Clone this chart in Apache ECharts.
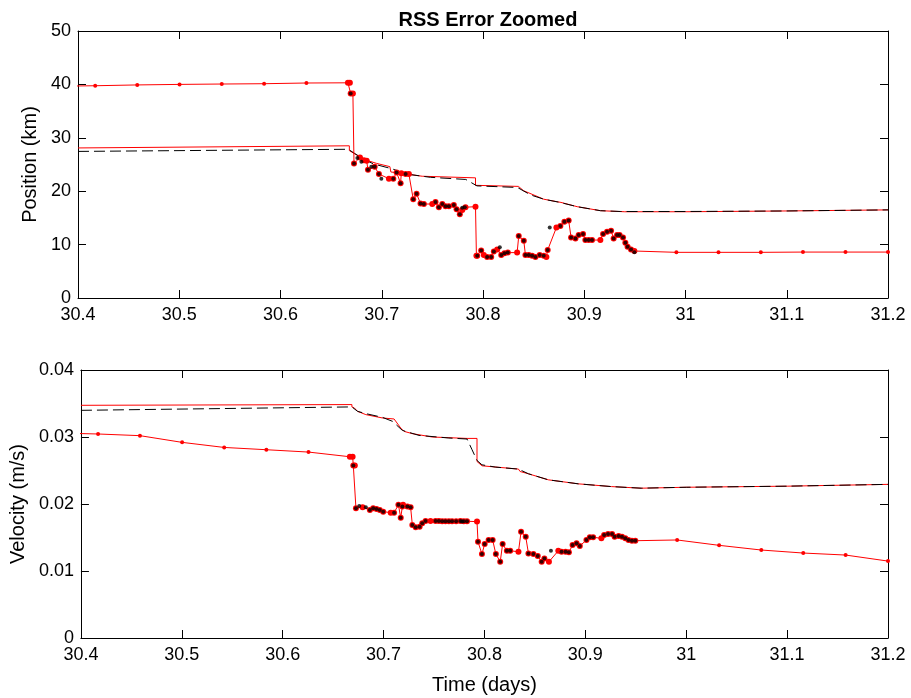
<!DOCTYPE html>
<html><head><meta charset="utf-8">
<script src="https://cdn.jsdelivr.net/npm/echarts@6/dist/echarts.min.js"></script>
<style>html,body{margin:0;padding:0;background:#fff}#c{width:911px;height:698px}</style>
</head><body><div id="c"></div>
<script>
// ---------- DATA ----------
const xTicks = [30.4, 31.2, 0.1];
const posCovRed = [[30.4,28.1],[30.668,28.5],[30.668,27.6],[30.675,26.8],[30.685,25.8],[30.695,25.2],[30.708,24.6],[30.709,23.6],[30.725,23.2],[30.74,22.8],[30.7926,22.5],[30.7926,21.1],[30.835,20.9],[30.84,20.1],[30.86,18.5],[30.877,17.9],[30.893,17.1],[30.916,16.35],[30.94,16.15],[31.0,16.15],[31.1,16.3],[31.2,16.5]];
const posCovBlack = [[30.4,27.45],[30.667,27.85],[30.673,27.1],[30.682,26.0],[30.692,25.1],[30.710,24.2],[30.725,23.2],[30.748,22.6],[30.783,22.2],[30.794,21.0],[30.834,20.7],[30.847,19.3],[30.86,18.5],[30.876,17.9],[30.893,17.1],[30.916,16.35],[30.936,16.2],[31.0,16.2],[31.1,16.3],[31.2,16.5]];
const posErrRed = [[30.375,39.65],[30.417,39.75],[30.4585,39.9],[30.5003,40.0],[30.542,40.07],[30.5838,40.13],[30.6256,40.26],[30.6666,40.3],[30.6685,40.3],[30.6693,38.3],[30.6715,38.3],[30.6726,25.2],[30.6785,26.3],[30.6824,25.8],[30.6851,25.7],[30.6864,24.0],[30.693,24.6],[30.6972,23.2],[30.7071,22.35],[30.7114,22.35],[30.7147,23.5],[30.7186,21.5],[30.7193,23.35],[30.7236,23.2],[30.7268,23.2],[30.7311,18.5],[30.7344,19.5],[30.7383,17.7],[30.7416,17.6],[30.7499,17.6],[30.7531,18.0],[30.7564,17.0],[30.7598,17.6],[30.763,17.2],[30.7663,17.2],[30.7712,17.4],[30.7739,16.6],[30.7771,15.7],[30.7795,16.5],[30.7827,17.0],[30.7926,17.1],[30.7935,7.9],[30.7943,7.9],[30.7982,8.9],[30.8008,8.05],[30.8041,7.7],[30.8081,7.7],[30.8107,8.7],[30.814,9.1],[30.818,8.05],[30.8212,8.4],[30.8245,8.5],[30.8337,8.5],[30.8353,11.6],[30.8403,10.7],[30.8419,8.05],[30.8452,8.05],[30.8485,7.9],[30.8518,7.7],[30.856,8.05],[30.86,7.9],[30.8626,7.7],[30.8639,9.0],[30.8725,13.2],[30.8764,13.5],[30.8804,14.3],[30.8846,14.5],[30.887,11.35],[30.8913,11.15],[30.8945,11.8],[30.8988,12.0],[30.9011,10.85],[30.9044,10.85],[30.9077,10.85],[30.9159,10.85],[30.9186,12.0],[30.9225,12.4],[30.9265,12.6],[30.929,11.15],[30.9324,11.8],[30.9349,11.8],[30.9383,11.35],[30.9406,10.35],[30.9428,9.6],[30.9462,9.1],[30.9495,8.8],[30.991,8.55],[31.0326,8.55],[31.0744,8.55],[31.116,8.6],[31.158,8.6],[31.2,8.6]];
const posErrBlack = [[30.6693,38.3],[30.6726,25.2],[30.6759,26.2],[30.6799,25.5],[30.6864,24.0],[30.6897,24.6],[30.693,24.6],[30.6972,23.2],[30.6996,22.35],[30.7114,22.35],[30.7147,23.5],[30.7186,21.5],[30.7236,23.2],[30.7311,18.5],[30.7344,19.5],[30.7383,17.7],[30.7416,17.6],[30.7531,18.0],[30.7564,17.0],[30.7598,17.6],[30.763,17.2],[30.7663,17.2],[30.7712,17.4],[30.7739,16.6],[30.7771,15.7],[30.7795,16.9],[30.782,17.0],[30.7943,7.9],[30.7982,8.9],[30.8041,7.7],[30.8081,7.7],[30.8107,8.7],[30.8166,9.5],[30.818,8.05],[30.8212,8.4],[30.8245,8.5],[30.8353,11.6],[30.8403,10.7],[30.8419,8.05],[30.8452,8.05],[30.8485,7.9],[30.8518,7.7],[30.856,8.05],[30.86,7.9],[30.8639,9.0],[30.8659,13.2],[30.8764,13.5],[30.8804,14.3],[30.8846,14.5],[30.887,11.35],[30.8913,11.15],[30.8945,11.8],[30.8988,12.0],[30.9011,10.85],[30.9044,10.85],[30.9077,10.85],[30.9186,12.0],[30.9225,12.4],[30.9265,12.6],[30.929,11.15],[30.9324,11.8],[30.9349,11.8],[30.9383,11.35],[30.9406,10.35],[30.9428,9.6],[30.9462,9.1],[30.9495,8.55]];

const velCovRed = [[30.4,0.03473],[30.6686,0.03484],[30.6686,0.03449],[30.671,0.03434],[30.6742,0.03383],[30.6824,0.03334],[30.6989,0.03284],[30.7104,0.03269],[30.7104,0.0324],[30.717,0.03134],[30.7203,0.03084],[30.7285,0.0305],[30.7482,0.03],[30.7827,0.02979],[30.7926,0.02979],[30.7926,0.02635],[30.7975,0.0257],[30.8337,0.02521],[30.8353,0.02485],[30.8436,0.02451],[30.8633,0.02361],[30.893,0.02301],[30.9258,0.0226],[30.9554,0.02236],[31.0,0.0225],[31.1,0.02266],[31.2,0.02293]];
const velCovBlack = [[30.4,0.03398],[30.6686,0.03449],[30.6742,0.03383],[30.6824,0.03349],[30.6989,0.03293],[30.7088,0.03234],[30.7186,0.03099],[30.7351,0.03024],[30.7647,0.02985],[30.7827,0.0297],[30.7877,0.0281],[30.7926,0.0265],[30.7975,0.02585],[30.8107,0.02551],[30.8337,0.02521],[30.8436,0.02451],[30.8633,0.02361],[30.893,0.02301],[30.9258,0.0226],[30.9554,0.02236],[31.0,0.0225],[31.1,0.02266],[31.2,0.02293]];
const velErrRed = [[30.375,0.0306],[30.417,0.03045],[30.4585,0.0302],[30.5003,0.0292],[30.542,0.02844],[30.5838,0.0281],[30.6256,0.02775],[30.6666,0.02705],[30.6693,0.02705],[30.67,0.02575],[30.6715,0.02575],[30.6726,0.01937],[30.6792,0.01952],[30.6864,0.01912],[30.6897,0.01937],[30.693,0.01927],[30.6962,0.01912],[30.6996,0.01886],[30.7071,0.01871],[30.7104,0.01871],[30.7147,0.01987],[30.717,0.01796],[30.7186,0.01961],[30.7193,0.01987],[30.7236,0.01961],[30.7268,0.01952],[30.7285,0.01687],[30.7318,0.01653],[30.7357,0.01662],[30.7383,0.01713],[30.7416,0.01747],[30.7465,0.01747],[30.7515,0.01747],[30.7548,0.01747],[30.7581,0.01742],[30.7613,0.01742],[30.7647,0.01742],[30.7679,0.01742],[30.7719,0.01742],[30.7761,0.01747],[30.7795,0.01742],[30.7827,0.01742],[30.7926,0.01737],[30.7936,0.01437],[30.7975,0.01253],[30.8002,0.01403],[30.8041,0.01463],[30.8081,0.01463],[30.8113,0.01253],[30.8156,0.01138],[30.818,0.01403],[30.8222,0.01302],[30.8255,0.01302],[30.8337,0.01287],[30.8363,0.01587],[30.8409,0.01512],[30.8436,0.01263],[30.8485,0.01253],[30.8528,0.01223],[30.8567,0.01138],[30.8594,0.01188],[30.8639,0.01138],[30.8732,0.01302],[30.8764,0.01287],[30.8804,0.01287],[30.8837,0.01278],[30.8873,0.01387],[30.8913,0.01413],[30.8945,0.01373],[30.9011,0.01463],[30.9044,0.01503],[30.9077,0.01503],[30.9159,0.01488],[30.9186,0.01537],[30.9225,0.01552],[30.9265,0.01552],[30.929,0.01512],[30.933,0.01522],[30.9363,0.01512],[30.9396,0.01488],[30.9428,0.01463],[30.9462,0.01452],[30.9495,0.01452],[30.991,0.01463],[31.0326,0.01383],[31.0744,0.01313],[31.116,0.01268],[31.158,0.01238],[31.2,0.01148]];
const velErrBlack = [[30.67,0.02575],[30.6726,0.01937],[30.6759,0.01972],[30.6824,0.01952],[30.6864,0.01912],[30.6897,0.01937],[30.693,0.01927],[30.6962,0.01912],[30.6996,0.01886],[30.7104,0.01871],[30.7147,0.01987],[30.717,0.01796],[30.7186,0.01961],[30.7236,0.01961],[30.7268,0.01952],[30.7285,0.01687],[30.7318,0.01653],[30.7357,0.01662],[30.7383,0.01713],[30.7416,0.01747],[30.7515,0.01747],[30.7548,0.01747],[30.7581,0.01742],[30.7613,0.01742],[30.7647,0.01742],[30.7679,0.01742],[30.7719,0.01742],[30.7761,0.01747],[30.7778,0.01737],[30.7795,0.01742],[30.7827,0.01742],[30.7936,0.01437],[30.7975,0.01253],[30.8002,0.01403],[30.8041,0.01463],[30.8081,0.01463],[30.8113,0.01253],[30.8156,0.01138],[30.818,0.01403],[30.8222,0.01302],[30.8255,0.01302],[30.8363,0.01587],[30.8409,0.01512],[30.8436,0.01263],[30.8485,0.01253],[30.8528,0.01223],[30.8567,0.01138],[30.8594,0.01188],[30.8659,0.01302],[30.8764,0.01287],[30.8804,0.01287],[30.8837,0.01278],[30.8873,0.01387],[30.8913,0.01413],[30.8945,0.01373],[30.9011,0.01463],[30.9044,0.01503],[30.9077,0.01503],[30.9186,0.01537],[30.9225,0.01552],[30.9265,0.01552],[30.929,0.01512],[30.933,0.01522],[30.9363,0.01512],[30.9396,0.01488],[30.9428,0.01463],[30.9462,0.01452],[30.9495,0.01452]];

// ---------- CHART ----------
const FONT = "'Liberation Sans', Arial, Helvetica, sans-serif";
const AX = '#000';
function xAx(gi, pos, show){
  return {type:'value', gridIndex:gi, position:pos, min:xTicks[0], max:xTicks[1], interval:xTicks[2],
    axisLine:{show:true, onZero:false, lineStyle:{color:AX, width:1}},
    axisTick:{show:true, inside:true, length:8, lineStyle:{color:AX}},
    axisLabel:{show:show, margin:8, color:'#000', fontSize:18, fontFamily:FONT,
      formatter:v=>String(Math.round(v*10)/10)},
    splitLine:{show:false}};
}
function yAx(gi, pos, show, min, max, iv, dec){
  return {type:'value', gridIndex:gi, position:pos, min:min, max:max, interval:iv,
    axisLine:{show:true, onZero:false, lineStyle:{color:AX, width:1}},
    axisTick:{show:true, inside:true, length:8, lineStyle:{color:AX}},
    axisLabel:{show:show, margin:7, color:'#000', fontSize:18, fontFamily:FONT,
      formatter:v=>String(parseFloat(v.toFixed(dec)))},
    splitLine:{show:false}};
}
const xs = [xAx(0,'bottom',true), xAx(0,'top',false), xAx(1,'bottom',true), xAx(1,'top',false)];
xs[2].name = 'Time (days)'; xs[2].nameLocation='middle'; xs[2].nameGap=37;
xs[2].nameTextStyle = {fontSize:20, fontFamily:FONT, color:'#000'};
const ys = [yAx(0,'left',true,0,50,10,0), yAx(0,'right',false,0,50,10,0),
            yAx(1,'left',true,0,0.04,0.01,2), yAx(1,'right',false,0,0.04,0.01,2)];
ys[0].name='Position (km)'; ys[0].nameLocation='middle'; ys[0].nameGap=34;
ys[0].nameTextStyle={fontSize:20, fontFamily:FONT, color:'#000'};
ys[2].name='Velocity (m/s)'; ys[2].nameLocation='middle'; ys[2].nameGap=51;
ys[2].nameTextStyle={fontSize:20, fontFamily:FONT, color:'#000'};

const bigSz = v => (v[0] > 30.665 && v[0] < 30.951) ? 6 : 4;
function seriesFor(gi, covR, covK, errR, errK){
  const xi = gi*2, yi = gi*2;
  return [
    {type:'line', xAxisIndex:xi, yAxisIndex:yi, data:covR, showSymbol:false, lineStyle:{color:'#ff0000', width:1}, z:2},
    {type:'line', xAxisIndex:xi, yAxisIndex:yi, data:covK, showSymbol:false, lineStyle:{color:'#000', width:1, type:[11,5]}, z:3},
    {type:'line', xAxisIndex:xi, yAxisIndex:yi, data:errR, showSymbol:true, showAllSymbol:true, symbol:'circle', symbolSize:bigSz,
      itemStyle:{color:'#ff0000'}, lineStyle:{color:'#ff0000', width:1}, z:4},
    {type:'scatter', xAxisIndex:xi, yAxisIndex:yi, data:errK, symbol:'circle', symbolSize:4, itemStyle:{color:'#000'}, z:5}
  ];
}

const chart = echarts.init(document.getElementById('c'), null, {renderer:'canvas'});
chart.setOption({
  animation:false,
  backgroundColor:'#fff',
  title:{text:'RSS Error Zoomed', left:483, top:5, textAlign:'center',
    textStyle:{fontSize:20, fontWeight:'bold', fontFamily:FONT, color:'#000'}},
  grid:[{left:78, top:31, right:23, height:267}, {left:78, top:370, right:23, height:268}],
  xAxis: xs, yAxis: ys,
  series: [].concat(seriesFor(0, posCovRed, posCovBlack, posErrRed, posErrBlack),
                    seriesFor(1, velCovRed, velCovBlack, velErrRed, velErrBlack))
});
</script></body></html>
